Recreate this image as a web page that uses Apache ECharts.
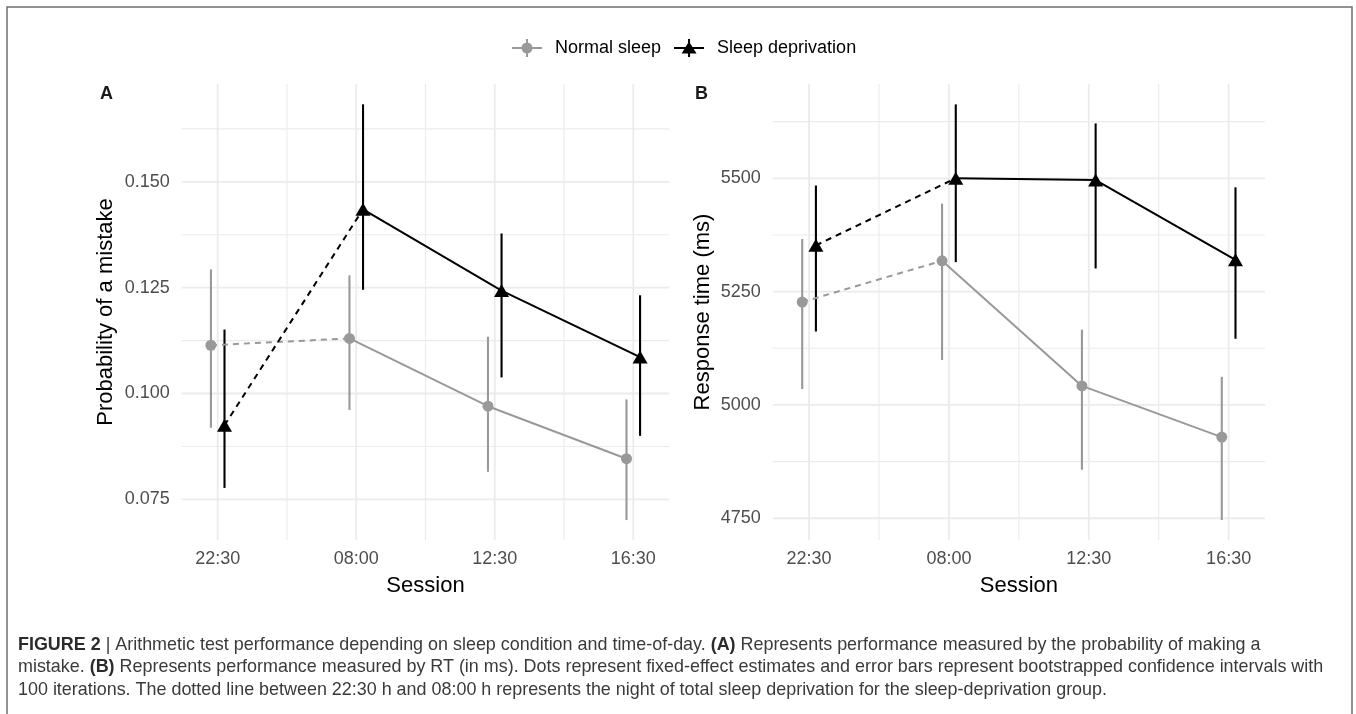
<!DOCTYPE html>
<html>
<head>
<meta charset="utf-8">
<script src="https://cdn.jsdelivr.net/npm/echarts@6/dist/echarts.min.js"></script>
<style>
html,body{margin:0;padding:0;background:#fff;}
#main{width:1356px;height:714px;}
</style>
</head>
<body>
<div id="main"></div>
<script>
// ---------------- DATA ----------------
const sessions = ['22:30', '08:00', '12:30', '16:30'];
const seriesNames = ['Normal sleep', 'Sleep deprivation'];

// Panel A: probability of a mistake
const normalA     = [0.1114, 0.1130, 0.0970, 0.0846];
const normalALow  = [0.0919, 0.0961, 0.0815, 0.0701];
const normalAHigh = [0.1293, 0.1279, 0.1134, 0.0986];
const deprivA     = [0.0925, 0.1435, 0.1243, 0.1086];
const deprivALow  = [0.0777, 0.1245, 0.1038, 0.0900];
const deprivAHigh = [0.1151, 0.1683, 0.1378, 0.1232];

// Panel B: response time (ms)
const normalB     = [5227, 5318, 5042, 4929];
const normalBLow  = [5035, 5099, 4857, 4746];
const normalBHigh = [5366, 5444, 5166, 5062];
const deprivB     = [5352, 5500, 5496, 5320];
const deprivBLow  = [5162, 5315, 5301, 5146];
const deprivBHigh = [5484, 5663, 5621, 5480];

// Tick labels / grid values
const yTicksA = [0.075, 0.100, 0.125, 0.150];
const yMinorA = [0.0875, 0.1125, 0.1375, 0.1625];
const yTicksB = [4750, 5000, 5250, 5500];
const yMinorB = [4875, 5125, 5375, 5625];

const panelLabels = ['A', 'B'];
const yTitles = ['Probability of a mistake', 'Response time (ms)'];
const xTitle = 'Session';

const captionLines = [
  '{b|FIGURE 2} | Arithmetic test performance depending on sleep condition and time-of-day. {b|(A)} Represents performance measured by the probability of making a',
  'mistake. {b|(B)} Represents performance measured by RT (in ms). Dots represent fixed-effect estimates and error bars represent bootstrapped confidence intervals with',
  '100 iterations. The dotted line between 22:30 h and 08:00 h represents the night of total sleep deprivation for the sleep-deprivation group.'
];

// ---------------- STYLE ----------------
const FONT = "'Liberation Sans', Arial, Helvetica, sans-serif";
const GREY = '#999999';
const BLACK = '#000000';
const GRIDC = '#ebebeb';
const DODGE = 0.049;
const XMIN = 0.74, XMAX = 4.26;
const yRange = [[0.0654, 0.1731], [4702, 5708]];

const chart = echarts.init(document.getElementById('main'), null, {renderer: 'canvas'});

function xs(off) { return sessions.map((s, i) => i + 1 + off); }

function hGrid(g, vals, w) {
  return {
    type: 'custom', xAxisIndex: g, yAxisIndex: g, z: 0, silent: true,
    data: vals.map(v => [XMIN, v]),
    renderItem: function (params, api) {
      const cs = params.coordSys;
      const y = api.coord([XMIN, api.value(1)])[1];
      return {type: 'line', shape: {x1: cs.x, y1: y, x2: cs.x + cs.width, y2: y},
              style: {stroke: GRIDC, lineWidth: w}};
    }
  };
}
function vGrid(g, vals, w) {
  return {
    type: 'custom', xAxisIndex: g, yAxisIndex: g, z: 0, silent: true,
    data: vals.map(v => [v, yRange[g][0]]),
    renderItem: function (params, api) {
      const cs = params.coordSys;
      const x = api.coord([api.value(0), yRange[g][0]])[0];
      return {type: 'line', shape: {x1: x, y1: cs.y, x2: x, y2: cs.y + cs.height},
              style: {stroke: GRIDC, lineWidth: w}};
    }
  };
}
function errBars(g, name, off, lo, hi, color) {
  const x = xs(off);
  return {
    type: 'custom', name: name, xAxisIndex: g, yAxisIndex: g, z: 2, silent: true,
    itemStyle: {color: color},
    encode: {x: 0, y: [1, 2]},
    data: lo.map((l, i) => [x[i], l, hi[i]]),
    renderItem: function (params, api) {
      const p1 = api.coord([api.value(0), api.value(1)]);
      const p2 = api.coord([api.value(0), api.value(2)]);
      return {type: 'line', shape: {x1: p1[0], y1: p1[1], x2: p2[0], y2: p2[1]},
              style: {stroke: color, lineWidth: 2.1}};
    }
  };
}
function lines(g, name, off, vals, color) {
  const x = xs(off);
  const pts = vals.map((v, i) => [x[i], v]);
  return [
    {type: 'line', name: name, xAxisIndex: g, yAxisIndex: g, z: 3, silent: true,
     symbol: 'none', data: pts.slice(0, 2), itemStyle: {color: color},
     lineStyle: {color: color, width: 2, type: [6, 5]}},
    {type: 'line', name: name, xAxisIndex: g, yAxisIndex: g, z: 3, silent: true,
     symbol: 'none', data: pts.slice(1), itemStyle: {color: color},
     lineStyle: {color: color, width: 2, type: 'solid'}}
  ];
}
function points(g, name, off, vals, color, symbol, size) {
  const x = xs(off);
  return {type: 'scatter', name: name, xAxisIndex: g, yAxisIndex: g, z: 4, silent: true,
          symbol: symbol, symbolSize: size, itemStyle: {color: color, opacity: 1},
          data: vals.map((v, i) => [x[i], v])};
}

function xAxis(g) {
  return {
    type: 'value', gridIndex: g, min: XMIN, max: XMAX,
    axisLine: {show: false}, axisTick: {show: false}, splitLine: {show: false},
    axisLabel: {customValues: sessions.map((s, i) => i + 1), formatter: v => sessions[Math.round(v) - 1],
                color: '#4d4d4d', fontSize: 18, fontFamily: FONT, margin: 10},
    name: xTitle, nameLocation: 'middle', nameGap: 35,
    nameTextStyle: {color: '#000', fontSize: 22, fontFamily: FONT}
  };
}
function yAxis(g, ticks, dec, gap) {
  return {
    type: 'value', gridIndex: g, min: yRange[g][0], max: yRange[g][1],
    axisLine: {show: false}, axisTick: {show: false}, splitLine: {show: false},
    axisLabel: {customValues: ticks, formatter: v => v.toFixed(dec),
                color: '#4d4d4d', fontSize: 18, fontFamily: FONT, margin: 12},
    name: yTitles[g], nameLocation: 'middle', nameGap: gap,
    nameTextStyle: {color: '#000', fontSize: 22, fontFamily: FONT}
  };
}

const ICON_N = 'path://M0,8 L30,8 L30,10 L0,10 Z M14,0 L16,0 L16,18 L14,18 Z M20.5,9 A5.5,5.5 0 1,1 9.5,9 A5.5,5.5 0 1,1 20.5,9 Z';
const ICON_D = 'path://M0,8 L30,8 L30,10 L0,10 Z M14,0 L16,0 L16,18 L14,18 Z M15,2.5 L22.5,14.5 L7.5,14.5 Z';

const series = [
  points(0, seriesNames[0], -DODGE, normalA, GREY, 'circle', 11),
  points(0, seriesNames[1], DODGE, deprivA, BLACK, 'triangle', [15, 13]),
  points(1, seriesNames[0], -DODGE, normalB, GREY, 'circle', 11),
  points(1, seriesNames[1], DODGE, deprivB, BLACK, 'triangle', [15, 13]),
  hGrid(0, yTicksA, 1.8), hGrid(0, yMinorA, 1.1),
  vGrid(0, [1, 2, 3, 4], 1.8), vGrid(0, [1.5, 2.5, 3.5], 1.1),
  hGrid(1, yTicksB, 1.8), hGrid(1, yMinorB, 1.1),
  vGrid(1, [1, 2, 3, 4], 1.8), vGrid(1, [1.5, 2.5, 3.5], 1.1),
  errBars(0, seriesNames[0], -DODGE, normalALow, normalAHigh, GREY),
  errBars(0, seriesNames[1], DODGE, deprivALow, deprivAHigh, BLACK),
  errBars(1, seriesNames[0], -DODGE, normalBLow, normalBHigh, GREY),
  errBars(1, seriesNames[1], DODGE, deprivBLow, deprivBHigh, BLACK),
  ...lines(0, seriesNames[0], -DODGE, normalA, GREY),
  ...lines(0, seriesNames[1], DODGE, deprivA, BLACK),
  ...lines(1, seriesNames[0], -DODGE, normalB, GREY),
  ...lines(1, seriesNames[1], DODGE, deprivB, BLACK)
];

// caption font size fitted to the width of line 2
const ctx = document.createElement('canvas').getContext('2d');
ctx.font = '16px ' + FONT;
const plain2 = captionLines[1].replace(/\{b\|([^}]*)\}/g, '$1');
const capSize = Math.max(12, Math.min(18, 16 * 1305 / ctx.measureText(plain2).width));
const capRich = {b: {fontWeight: 'bold', fontSize: capSize, fontFamily: FONT, fill: '#2b2b2b'}};

const graphic = [
  {type: 'rect', silent: true, z: 100, shape: {x: 7, y: 7, width: 1345, height: 800},
   style: {fill: 'none', stroke: '#6f6f6f', lineWidth: 1.5}},
  {type: 'text', left: 100, top: 85, silent: true,
   style: {text: panelLabels[0], fontSize: 18, fontWeight: 'bold', fontFamily: FONT, fill: '#1a1a1a'}},
  {type: 'text', left: 695, top: 85, silent: true,
   style: {text: panelLabels[1], fontSize: 18, fontWeight: 'bold', fontFamily: FONT, fill: '#1a1a1a'}}
];
const capY = [645, 667.5, 690];
captionLines.forEach((t, i) => {
  graphic.push({type: 'text', x: 18, y: capY[i], silent: true,
    style: {text: t, fontSize: capSize, fontFamily: FONT, fill: '#3a3a3a',
            verticalAlign: 'middle', align: 'left', rich: capRich}});
});

const option = {
  animation: false,
  backgroundColor: '#ffffff',
  legend: {
    left: 507, top: 34, itemWidth: 30, itemHeight: 18, itemGap: 13,
    selectedMode: false,
    textStyle: {color: '#000', fontSize: 18, fontFamily: FONT, padding: [0, 0, 0, 8]},
    data: [
      {name: seriesNames[0], icon: ICON_N, itemStyle: {color: GREY}},
      {name: seriesNames[1], icon: ICON_D, itemStyle: {color: BLACK}}
    ]
  },
  grid: [
    {left: 181.7, top: 84, width: 487.6, height: 456},
    {left: 772.7, top: 84, width: 492.3, height: 456}
  ],
  xAxis: [xAxis(0), xAxis(1)],
  yAxis: [yAxis(0, yTicksA, 3, 65), yAxis(1, yTicksB, 0, 59)],
  series: series,
  graphic: graphic
};
chart.setOption(option);
</script>
</body>
</html>
